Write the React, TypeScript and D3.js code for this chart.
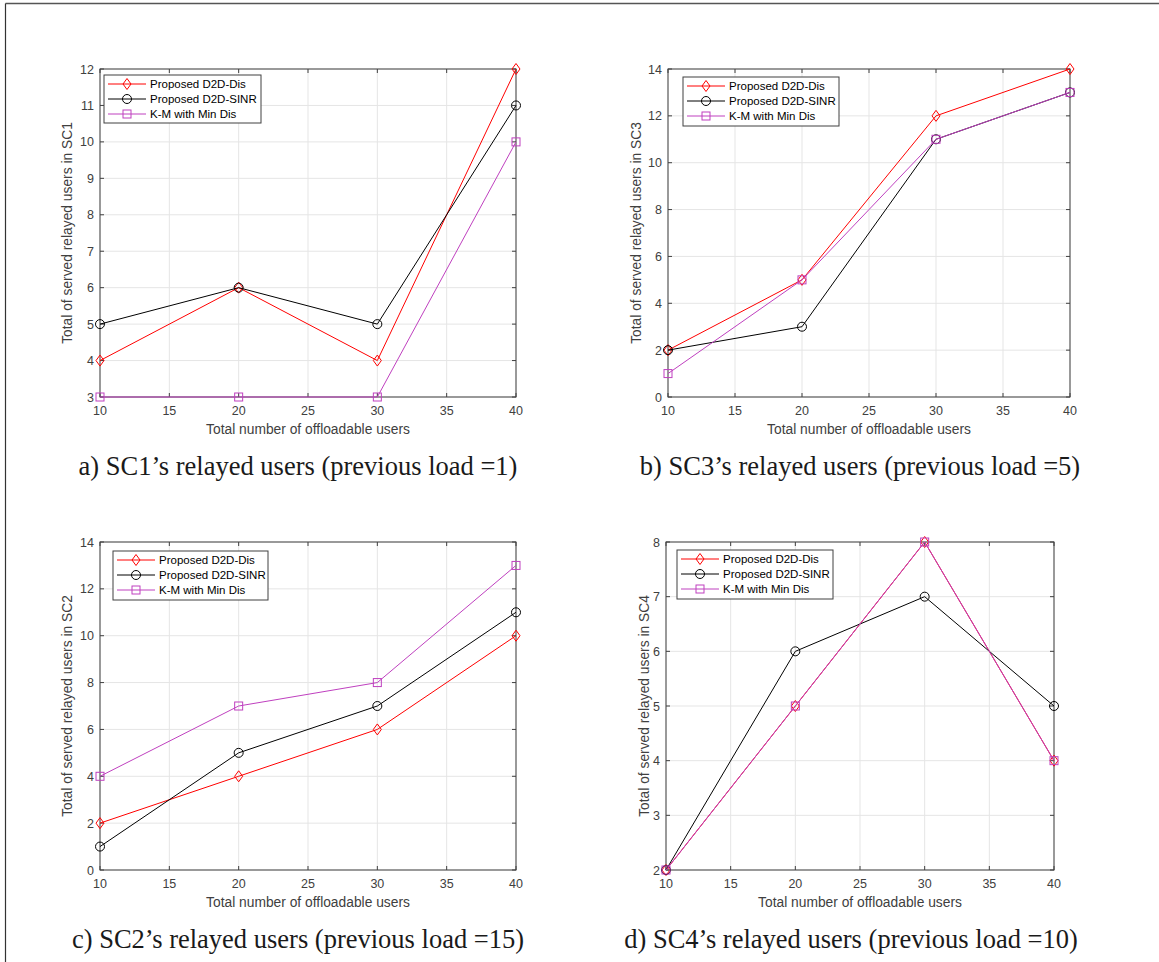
import React from "react";
import * as d3 from "d3";

const xValues = [10, 20, 30, 40];
const xTicks = [10, 15, 20, 25, 30, 35, 40];
const seriesNames = ["Proposed D2D-Dis", "Proposed D2D-SINR", "K-M with Min Dis"];

const sc1Dis = [4, 6, 4, 12];
const sc1Sinr = [5, 6, 5, 11];
const sc1Km = [3, 3, 3, 10];

const sc3Dis = [2, 5, 12, 14];
const sc3Sinr = [2, 3, 11, 13];
const sc3Km = [1, 5, 11, 13];

const sc2Dis = [2, 4, 6, 10];
const sc2Sinr = [1, 5, 7, 11];
const sc2Km = [4, 7, 8, 13];

const sc4Dis = [2, 5, 8, 4];
const sc4Sinr = [2, 6, 7, 5];
const sc4Km = [2, 5, 8, 4];

const ticksA = [3, 4, 5, 6, 7, 8, 9, 10, 11, 12];
const ticksB = [0, 2, 4, 6, 8, 10, 12, 14];
const ticksC = [0, 2, 4, 6, 8, 10, 12, 14];
const ticksD = [2, 3, 4, 5, 6, 7, 8];

const COLORS = ["#ff0000", "#000000", "#bf40bf"];
const AX = "#404040";
const GRID = "#e5e5e5";
const SANS = "Liberation Sans, Arial, Helvetica, sans-serif";
const SERIF = "Liberation Serif, Times New Roman, serif";

function Marker({ kind, x, y, color }: { kind: number; x: number; y: number; color: string }) {
  if (kind === 0) {
    const h = 5.5, w = 4;
    return <path d={`M${x},${y - h}L${x + w},${y}L${x},${y + h}L${x - w},${y}Z`} fill="none" stroke={color} strokeWidth={1} />;
  }
  if (kind === 1) return <circle cx={x} cy={y} r={4.5} fill="none" stroke={color} strokeWidth={1} />;
  return <rect x={x - 4} y={y - 4} width={8} height={8} fill="none" stroke={color} strokeWidth={1} />;
}

type PanelProps = {
  left: number; right: number; top: number; bottom: number;
  yTicks: number[]; series: number[][]; ylabel: string;
  legend: { x: number; y: number; w: number; h: number };
  caption: string; capX: number; capY: number; ylabX: number;
};

function Panel(p: PanelProps) {
  const x = d3.scaleLinear().domain([10, 40]).range([p.left, p.right]);
  const y = d3.scaleLinear().domain([p.yTicks[0], p.yTicks[p.yTicks.length - 1]]).range([p.bottom, p.top]);
  const line = d3.line<number>().x((_, i) => x(xValues[i])).y((v) => y(v));
  const tl = 4;
  return (
    <g>
      {xTicks.map((t) => (
        <line key={"gx" + t} x1={x(t)} x2={x(t)} y1={p.top} y2={p.bottom} stroke={GRID} strokeWidth={1} />
      ))}
      {p.yTicks.map((t) => (
        <line key={"gy" + t} x1={p.left} x2={p.right} y1={y(t)} y2={y(t)} stroke={GRID} strokeWidth={1} />
      ))}
      {xTicks.map((t) => (
        <g key={"tx" + t}>
          <line x1={x(t)} x2={x(t)} y1={p.bottom} y2={p.bottom - tl} stroke={AX} />
          <line x1={x(t)} x2={x(t)} y1={p.top} y2={p.top + tl} stroke={AX} />
          <text x={x(t)} y={p.bottom + 18} textAnchor="middle" fontSize={12.5} fontFamily={SANS} fill={AX}>{t}</text>
        </g>
      ))}
      {p.yTicks.map((t) => (
        <g key={"ty" + t}>
          <line x1={p.left} x2={p.left + tl} y1={y(t)} y2={y(t)} stroke={AX} />
          <line x1={p.right} x2={p.right - tl} y1={y(t)} y2={y(t)} stroke={AX} />
          <text x={p.left - 6} y={y(t) + 4.5} textAnchor="end" fontSize={12.5} fontFamily={SANS} fill={AX}>{t}</text>
        </g>
      ))}
      <rect x={p.left} y={p.top} width={p.right - p.left} height={p.bottom - p.top} fill="none" stroke={AX} strokeWidth={1} />
      {p.series.map((s, si) => (
        <g key={"s" + si}>
          <path d={line(s) || ""} fill="none" stroke={COLORS[si]} strokeWidth={1} />
          {s.map((v, i) => (
            <Marker key={i} kind={si} x={x(xValues[i])} y={y(v)} color={COLORS[si]} />
          ))}
        </g>
      ))}
      <text x={(p.left + p.right) / 2} y={p.bottom + 37} textAnchor="middle" fontSize={13.8} fontFamily={SANS} fill={AX}>Total number of offloadable users</text>
      <text transform={`translate(${p.ylabX},${(p.top + p.bottom) / 2}) rotate(-90)`} textAnchor="middle" fontSize={13.8} fontFamily={SANS} fill={AX}>{p.ylabel}</text>
      <g>
        <rect x={p.legend.x} y={p.legend.y} width={p.legend.w} height={p.legend.h} fill="#ffffff" stroke={AX} strokeWidth={1} />
        {seriesNames.map((n, i) => {
          const ly = p.legend.y + 9 + i * 15;
          return (
            <g key={"l" + i}>
              <line x1={p.legend.x + 4} x2={p.legend.x + 42} y1={ly} y2={ly} stroke={COLORS[i]} strokeWidth={1} />
              <Marker kind={i} x={p.legend.x + 23} y={ly} color={COLORS[i]} />
              <text x={p.legend.x + 46} y={ly + 4} fontSize={11.5} fontFamily={SANS} fill="#000">{n}</text>
            </g>
          );
        })}
      </g>
      <text x={p.capX} y={p.capY} textAnchor="middle" fontSize={26.5} fontFamily={SERIF} fill="#1a1a1a">{p.caption}</text>
    </g>
  );
}

export default function App() {
  return (
    <svg width={1159} height={962} style={{ position: "absolute", left: 0, top: 0, background: "#fff" }}>
      <rect x={0} y={0} width={1159} height={962} fill="#fff" />
      <line x1={5.5} x2={1159} y1={3.5} y2={3.5} stroke="#555" strokeWidth={1.5} />
      <line x1={5.5} x2={5.5} y1={3.5} y2={962} stroke="#333" strokeWidth={1.2} />
      <Panel left={100} right={516} top={69} bottom={397} yTicks={ticksA} series={[sc1Dis, sc1Sinr, sc1Km]}
        ylabel="Total of served relayed users in SC1" legend={{ x: 104, y: 75, w: 157, h: 48 }}
        caption="a) SC1’s relayed users (previous load =1)" capX={298} capY={475} ylabX={72} />
      <Panel left={668} right={1070} top={69} bottom={397} yTicks={ticksB} series={[sc3Dis, sc3Sinr, sc3Km]}
        ylabel="Total of served relayed users in SC3" legend={{ x: 683, y: 77, w: 156, h: 49 }}
        caption="b) SC3’s relayed users (previous load =5)" capX={860} capY={475} ylabX={641} />
      <Panel left={100} right={516} top={542} bottom={870} yTicks={ticksC} series={[sc2Dis, sc2Sinr, sc2Km]}
        ylabel="Total of served relayed users in SC2" legend={{ x: 113, y: 551, w: 155, h: 49 }}
        caption="c) SC2’s relayed users (previous load =15)" capX={298} capY={948} ylabX={72} />
      <Panel left={666} right={1054} top={542} bottom={870} yTicks={ticksD} series={[sc4Dis, sc4Sinr, sc4Km]}
        ylabel="Total of served relayed users in SC4" legend={{ x: 677, y: 550, w: 156, h: 49 }}
        caption="d) SC4’s relayed users (previous load =10)" capX={851} capY={948} ylabX={649} />
    </svg>
  );
}
